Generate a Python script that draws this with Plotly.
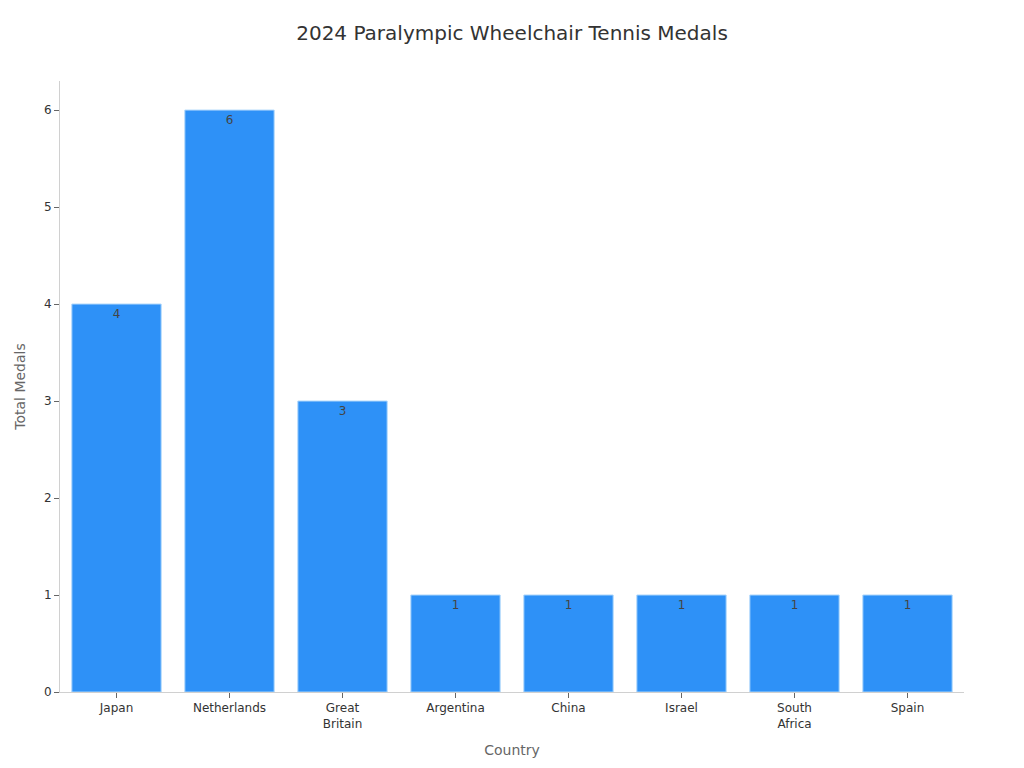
import plotly.graph_objects as go

countries = ['Japan', 'Netherlands', 'Great<br>Britain', 'Argentina', 'China', 'Israel', 'South<br>Africa', 'Spain']
medals = [4, 6, 3, 1, 1, 1, 1, 1]

fig = go.Figure()
fig.add_trace(go.Bar(
    x=countries,
    y=medals,
    text=medals,
    textposition='inside',
    insidetextanchor='end',
    textfont=dict(color='#444444', size=12),
    marker=dict(color='#2E91F7', line=dict(color='#A9D4FB', width=1)),
))

fig.update_layout(
    width=1024,
    height=768,
    font=dict(family='DejaVu Sans', color='#333333'),
    title=dict(text='2024 Paralympic Wheelchair Tennis Medals', x=0.5, xref='paper', y=0.9674,
               xanchor='center', yanchor='middle', font=dict(size=20, color='#333333')),
    plot_bgcolor='white',
    paper_bgcolor='white',
    margin=dict(l=52, r=68, t=73, b=84),
    bargap=0.21,
    showlegend=False,
)
fig.update_xaxes(
    title=dict(text='Country', font=dict(size=14, color='#666666')),
    showline=True, linecolor='#D0D0D0', linewidth=1,
    ticks='outside', ticklen=5, tickcolor='#666666',
    tickfont=dict(size=12, color='#333333'),
    showgrid=False,
)
fig.update_yaxes(
    title=dict(text='Total Medals', font=dict(size=14, color='#666666')),
    range=[0, 6.3], dtick=1,
    showline=True, linecolor='#D0D0D0', linewidth=1,
    ticks='outside', ticklen=5, tickcolor='#666666',
    tickfont=dict(size=12, color='#333333'),
    showgrid=False, zeroline=False,
)

fig.write_html('out.html')
